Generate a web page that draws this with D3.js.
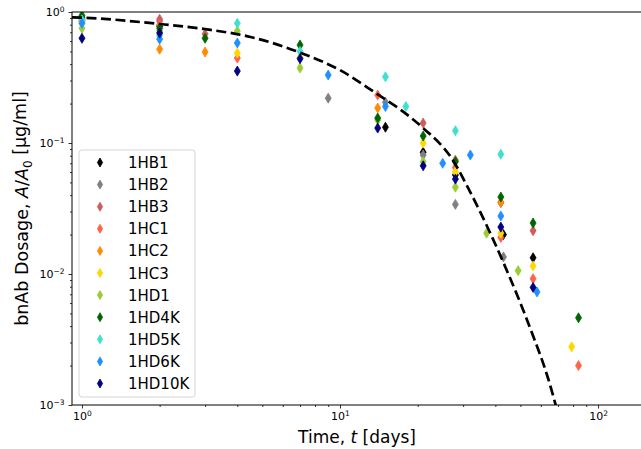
<!DOCTYPE html>
<html>
<head>
<meta charset="utf-8">
<script src="https://cdn.jsdelivr.net/npm/d3@7"></script>
<style>
  body { margin: 0; background: #fff; }
  svg { font-family: "DejaVu Sans", sans-serif; }
</style>
</head>
<body>
<script>
var W = 641, H = 449;
var plotL = 72, plotR = 642, plotT = 12, plotB = 405;

// series data: [days, A/A0]
var hb1  = [[1,0.90],[2,0.78],[15,0.132],[21,0.085],[28,0.057],[43,0.020],[56,0.0133]];
var hb2  = [[1,0.88],[2,0.85],[9,0.22],[15,0.205],[21,0.081],[28,0.034],[43,0.0135]];
var hb3  = [[1,0.86],[2,0.88],[3,0.68],[21,0.142],[28,0.074],[42,0.035],[56,0.0214]];
var hc1  = [[1,0.85],[2,0.80],[4,0.445],[14,0.232],[28,0.065],[42,0.019],[56,0.0092],[84,0.0020]];
var hc2  = [[1,0.84],[2,0.52],[3,0.495],[14,0.185],[42,0.0355]];
var hc3  = [[1,0.82],[2,0.70],[4,0.486],[7,0.45],[21,0.100],[28,0.060],[42,0.0205],[56,0.0115],[79,0.00278]];
var hd1  = [[1,0.75],[2,0.72],[4,0.716],[7,0.374],[14,0.150],[21,0.072],[28,0.046],[37,0.0205],[49,0.0106]];
var hd4k = [[1,0.94],[2,0.75],[3,0.63],[7,0.56],[14,0.155],[21,0.113],[28,0.072],[42,0.0387],[56,0.0245],[84,0.00463]];
var hd5k = [[1,0.87],[2,0.66],[4,0.82],[7,0.50],[15,0.32],[18,0.19],[28,0.124],[42,0.082]];
var hd6k = [[1,0.82],[2,0.62],[4,0.58],[9,0.33],[15,0.19],[25,0.070],[32,0.081],[42,0.0277],[58,0.0073]];
var hd10k= [[1,0.63],[2,0.69],[4,0.354],[7,0.44],[14,0.130],[21,0.067],[28,0.053],[42,0.0228],[56,0.0079]];

var names  = ["1HB1","1HB2","1HB3","1HC1","1HC2","1HC3","1HD1","1HD4K","1HD5K","1HD6K","1HD10K"];
var colors = ["black","grey","indianred","tomato","darkorange","gold","yellowgreen","darkgreen","turquoise","dodgerblue","navy"];
var allSeries = [hb1,hb2,hb3,hc1,hc2,hc3,hd1,hd4k,hd5k,hd6k,hd10k];

// dashed model curve
var fitT = [0.915, 1, 2, 3, 4.5, 7, 10, 14, 17, 21, 27, 32, 43, 55, 64, 69];
var fitA = [0.91, 0.905, 0.81, 0.74, 0.645, 0.49, 0.36, 0.235, 0.182, 0.13, 0.077, 0.042, 0.0122, 0.0037, 0.0016, 0.00095];

var xMajor = [1, 10, 100];
var yMajor = [1e-3, 1e-2, 1e-1, 1];
var xMinor = [2,3,4,5,6,7,8,9,20,30,40,50,60,70,80,90];
var yMinor = [0.002,0.003,0.004,0.005,0.006,0.007,0.008,0.009,0.02,0.03,0.04,0.05,0.06,0.07,0.08,0.09,0.2,0.3,0.4,0.5,0.6,0.7,0.8,0.9];

var svg = d3.select("body").append("svg")
    .attr("width", W).attr("height", H);

var x = d3.scaleLog().domain([0.915, 148]).range([plotL, plotR]);
var y = d3.scaleLog().domain([1e-3, 1]).range([plotB, plotT]);

svg.append("clipPath").attr("id", "clip")
   .append("rect").attr("x", plotL).attr("y", plotT)
   .attr("width", plotR - plotL).attr("height", plotB - plotT);

var plot = svg.append("g").attr("clip-path", "url(#clip)");

// points
var diamond = "M0,-5L3,0L0,5L-3,0Z";
var diamondSm = "M0,-4.5L2.6,0L0,4.5L-2.6,0Z";
allSeries.forEach(function(s, i) {
  plot.selectAll("path.s" + i)
      .data(s)
      .enter()
      .append("path")
      .attr("class", "s" + i)
      .attr("d", diamond)
      .attr("transform", function(d) { return "translate(" + x(d[0]) + "," + y(d[1]) + ")"; })
      .attr("fill", colors[i])
      .attr("stroke", colors[i])
      .attr("stroke-width", 0.8);
});

// dashed line
var fit = fitT.map(function(t, i) { return [t, fitA[i]]; });
plot.append("path")
    .datum(fit)
    .attr("fill", "none")
    .attr("stroke", "black")
    .attr("stroke-width", 2.7)
    .attr("stroke-dasharray", "10,4.5")
    .attr("d", d3.line()
      .x(function(d) { return x(d[0]); })
      .y(function(d) { return y(d[1]); })
      .curve(d3.curveMonotoneX));

// axes
function supLabel(sel, fmt) {
  sel.selectAll(".tick text").each(function(d) {
    var t = d3.select(this).text(null);
    t.append("tspan").text("10");
    t.append("tspan").attr("dy", "-0.6em").attr("font-size", "7.5px").text(fmt(d));
  });
}
function expo(d) { var e = Math.round(Math.log10(d)); return e < 0 ? "\u2212" + (-e) : "" + e; }

var gx = svg.append("g").attr("transform", "translate(0," + plotB + ")")
    .call(d3.axisBottom(x).tickValues(xMajor).tickSize(3.5).tickPadding(4).tickFormat(function(d){ return d; }));
supLabel(gx, expo);
svg.append("g").attr("transform", "translate(0," + plotB + ")")
    .call(d3.axisBottom(x).tickValues(xMinor).tickSize(2).tickFormat(""));

var gy = svg.append("g").attr("transform", "translate(" + plotL + ",0)")
    .call(d3.axisLeft(y).tickValues(yMajor).tickSize(3.5).tickPadding(4).tickFormat(function(d){ return d; }));
supLabel(gy, expo);
svg.append("g").attr("transform", "translate(" + plotL + ",0)")
    .call(d3.axisLeft(y).tickValues(yMinor).tickSize(2).tickFormat(""));

svg.selectAll(".domain").remove();
svg.selectAll(".tick line").attr("stroke", "black").attr("stroke-width", 0.8);
svg.selectAll(".tick text").attr("font-size", "11px").attr("fill", "black")
   .attr("font-family", "DejaVu Sans");

// frame
svg.append("rect").attr("x", plotL).attr("y", plotT)
   .attr("width", plotR - plotL).attr("height", plotB - plotT)
   .attr("fill", "none").attr("stroke", "black").attr("stroke-width", 1);

// axis titles
var xt = svg.append("text").attr("x", (plotL + plotR) / 2).attr("y", 443)
   .attr("text-anchor", "middle").attr("font-size", "17px");
xt.append("tspan").text("Time, ");
xt.append("tspan").attr("font-style", "italic").text("t");
xt.append("tspan").text(" [days]");

var yt = svg.append("text")
   .attr("transform", "translate(28," + (plotT + plotB) / 2 + ") rotate(-90)")
   .attr("text-anchor", "middle").attr("font-size", "17.5px");
yt.append("tspan").text("bnAb Dosage, ");
yt.append("tspan").attr("font-style", "italic").text("A");
yt.append("tspan").text("/");
yt.append("tspan").attr("font-style", "italic").text("A");
yt.append("tspan").attr("dy", "0.3em").attr("font-size", "12px").text("0");
yt.append("tspan").attr("dy", "-0.3em").text(" [\u03bcg/ml]");

// legend
var lg = svg.append("g");
lg.append("rect").attr("x", 79).attr("y", 150).attr("width", 116).attr("height", 247)
  .attr("rx", 3).attr("fill", "white").attr("fill-opacity", 0.8)
  .attr("stroke", "#d5d5d5").attr("stroke-width", 1);
var rows = lg.selectAll("g.row").data(names).enter().append("g")
  .attr("class", "row")
  .attr("transform", function(d, i) { return "translate(100," + (162.5 + i * 22.1) + ")"; });
rows.append("path").attr("d", diamondSm)
  .attr("fill", function(d, i) { return colors[i]; })
  .attr("stroke", function(d, i) { return colors[i]; })
  .attr("stroke-width", 0.8);
rows.append("text").attr("x", 28).attr("y", 5.5).attr("font-size", "15px")
  .text(function(d) { return d; });
</script>
</body>
</html>
